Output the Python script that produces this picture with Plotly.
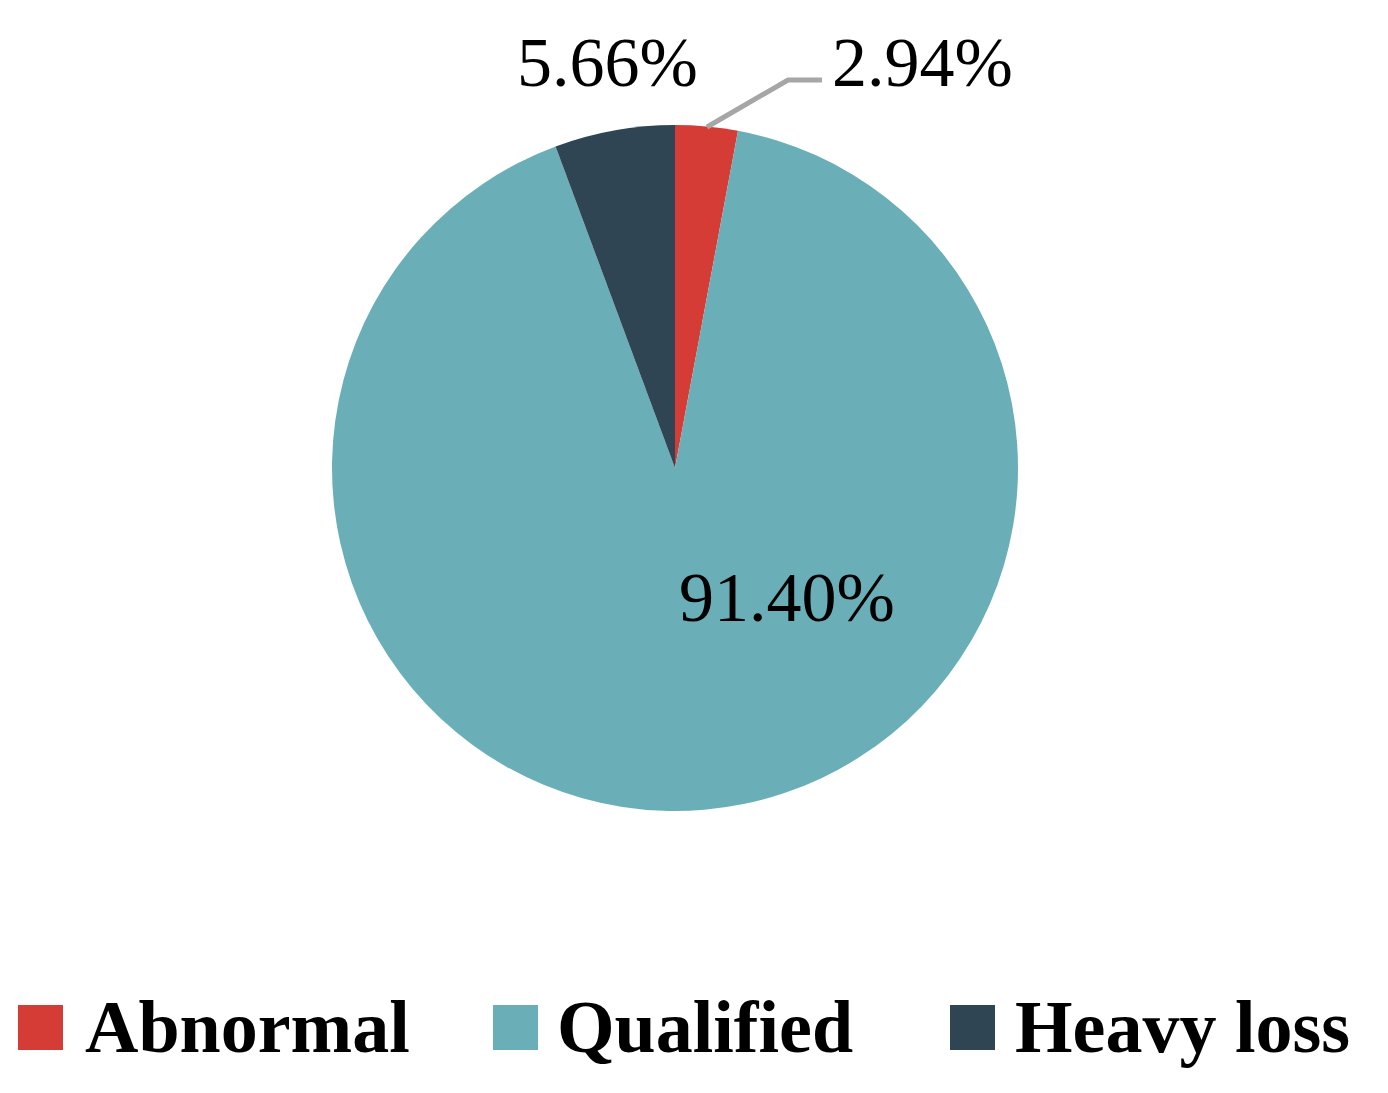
import plotly.graph_objects as go

labels = ["Abnormal", "Qualified", "Heavy loss"]
values = [2.94, 91.40, 5.66]
colors = ["#D63C36", "#6AAFB8", "#2F4553"]
label_text = ["2.94%", "91.40%", "5.66%"]

W, H = 1388, 1093
OFF = 8  # page body margin
FONT = "Liberation Serif"

def px(x):
    return (x - OFF) / W

def py(y):
    return 1 - (y - OFF) / H

fig = go.Figure()
fig.add_trace(go.Pie(
    labels=labels, values=values, sort=False, direction="clockwise", rotation=0,
    marker=dict(colors=colors, line=dict(width=0)),
    textinfo="none", hoverinfo="label+percent", showlegend=False,
    domain=dict(x=[px(332), px(1018)], y=[py(811), py(125)]),
))

annotations = []
label_pos = [(922, 62), (787, 597), (607, 62)]
for txt, (x, y) in zip(label_text, label_pos):
    annotations.append(dict(x=px(x), y=py(y), xref="paper", yref="paper", text=txt,
                            showarrow=False, xanchor="center", yanchor="middle",
                            font=dict(family=FONT, size=70, color="#000000")))

shapes = [
    dict(type="path", xref="paper", yref="paper",
         path=f"M {px(707)} {py(127)} L {px(788)} {py(80)} L {px(822)} {py(80)}",
         line=dict(color="#A6A6A6", width=5)),
]

sq_x = [18, 493, 950]
txt_x = [83, 555, 1013]
for lab, col, sx, tx in zip(labels, colors, sq_x, txt_x):
    shapes.append(dict(type="rect", xref="paper", yref="paper",
                       x0=px(sx), x1=px(sx + 45), y0=py(1050), y1=py(1005),
                       fillcolor=col, line=dict(width=0)))
    annotations.append(dict(x=px(tx), y=py(1027), xref="paper", yref="paper",
                            text=f"<b>{lab}</b>", showarrow=False,
                            xanchor="left", yanchor="middle",
                            font=dict(family=FONT, size=74, color="#000000")))

fig.update_layout(
    width=W, height=H, margin=dict(l=0, r=0, t=0, b=0),
    paper_bgcolor="white", plot_bgcolor="white",
    annotations=annotations, shapes=shapes,
)

fig.write_html("out.html")
